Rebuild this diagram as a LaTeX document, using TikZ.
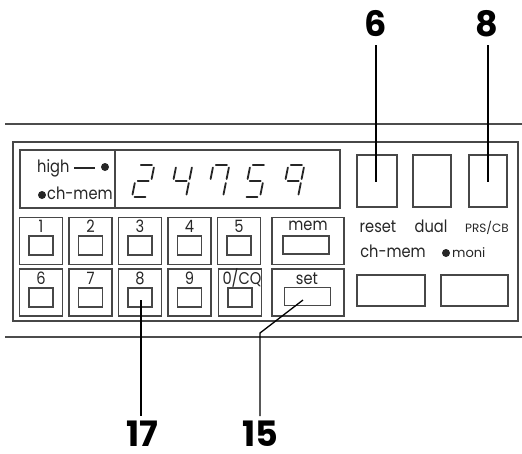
\documentclass[tikz,border=0pt]{standalone}
\usepackage{fontspec}
\setmainfont{Poppins}
\newfontfamily\panelfont{Poppins}[FakeStretch=0.86]
\begin{document}
\begin{tikzpicture}[x=1pt,y=-1pt,
  panel/.style={draw=black!72,line width=1.1pt},
  keybox/.style={panel,rectangle,inner sep=0pt,minimum width=43pt,minimum height=47pt},
  widekey/.style={panel,rectangle,inner sep=0pt,minimum width=72pt,minimum height=47pt},
  inbox/.style={panel,rectangle,inner sep=0pt,minimum width=24pt,minimum height=19pt},
  winbox/.style={panel,rectangle,inner sep=0pt,minimum width=46pt,minimum height=18pt},
  klab/.style={inner sep=0pt,anchor=base,font=\panelfont\fontsize{17}{17}\selectfont,text=black!85},
  plab/.style={inner sep=0pt,anchor=base,font=\panelfont\fontsize{17}{17}\selectfont,text=black!85},
  small/.style={inner sep=0pt,anchor=base,font=\fontsize{12}{12}\selectfont,text=black!85},
  big/.style={inner sep=0pt,anchor=base,font=\fontsize{35}{35}\selectfont\bfseries},
  lead/.style={draw=black,line width=1.3pt},
  seg/.style={draw=black!85,line width=1.8pt,line cap=round}]
\useasboundingbox (0,0) rectangle (522,453);
% rails
\coordinate (tl) at (5,124); \coordinate (tr) at (522,124);
\coordinate (bl) at (5,337); \coordinate (br) at (522,337);
\draw[draw=black!70,line width=1.2pt] (tl) -- (tr);
\draw[draw=black!70,line width=1.2pt] (bl) -- (br);
% outer panel
\node[panel,rectangle,inner sep=0pt,minimum width=505pt,minimum height=179pt] (outer) at (265.5,231.5) {};
% display
\node[panel,rectangle,inner sep=0pt,minimum width=95pt,minimum height=58pt] (disL) at (67.5,179) {};
\node[panel,rectangle,inner sep=0pt,minimum width=225pt,minimum height=58pt] (disR) at (227.5,179) {};
\node[plab,anchor=base west] (high) at (37,172) {high};
\coordinate (hd1) at (74,168); \coordinate (hd2) at (95,168);
\draw[draw=black!85,line width=1.4pt] (hd1) -- (hd2);
\node[circle,fill=black!85,inner sep=0pt,minimum size=8pt] (hdot) at (105,167) {};
\node[circle,fill=black!85,inner sep=0pt,minimum size=8pt] (cdot) at (42,195) {};
\node[plab,anchor=base west] (chm) at (47,199) {ch-mem};
% seven segment digits
\newcommand{\sega}{\draw[seg] (2.5,32) -- (13.5,32);}
\newcommand{\segb}{\draw[seg] (16,29.5) -- (16,18);}
\newcommand{\segc}{\draw[seg] (16,14) -- (16,2.5);}
\newcommand{\segd}{\draw[seg] (2.5,0) -- (13.5,0);}
\newcommand{\sege}{\draw[seg] (0,2.5) -- (0,14);}
\newcommand{\segf}{\draw[seg] (0,18) -- (0,29.5);}
\newcommand{\segg}{\draw[seg] (2.5,16) -- (13.5,16);}
\newcommand{\sevseg}[2]{%
\begin{scope}[shift={(#1,197)},x=1pt,y=1pt,xslant=0.2]
\foreach \s in {#2}{\csname seg\s\endcsname}
\end{scope}}
\sevseg{132}{a,b,g,e,d}
\sevseg{170}{f,b,g,c}
\sevseg{207}{a,f,b,c}
\sevseg{244}{a,f,g,c,d}
\sevseg{282}{a,f,b,g,c}
% right squares
\node[panel,rectangle,inner sep=0pt,minimum width=40pt,minimum height=52pt] (sq6) at (377,181) {};
\node[panel,rectangle,inner sep=0pt,minimum width=38pt,minimum height=52pt] (sqd) at (432,181) {};
\node[panel,rectangle,inner sep=0pt,minimum width=38pt,minimum height=52pt] (sq8) at (488,181) {};
\node[plab] (reset) at (378,232) {reset};
\node[plab] (dual) at (431,232) {dual};
\node[small] (prs) at (487,232) {PRS/CB};
\node[plab] (chm2) at (393,257) {ch-mem};
\node[circle,fill=black!85,inner sep=0pt,minimum size=8pt] (mdot) at (446,253) {};
\node[small,font=\fontsize{13}{13}\selectfont,anchor=base west] (moni) at (452,257) {moni};
\node[panel,rectangle,inner sep=0pt,minimum width=68pt,minimum height=31pt] (bb1) at (391,290.5) {};
\node[panel,rectangle,inner sep=0pt,minimum width=67pt,minimum height=31pt] (bb2) at (474.5,290.5) {};
% keypad
\foreach \n/\lab/\xx/\lx in {1/1/41/41,2/2/90.5/90.5,3/3/140/140,4/4/189.5/189.5,5/5/239/239}{
  \node[keybox] (k\n) at (\xx,241) {};
  \node[inbox] (ki\n) at (\xx,245.5) {};
  \node[klab] (kl\n) at (\lx,232) {\lab};
}
\foreach \n/\lab/\xx/\lx in {6/6/41/41,7/7/90.5/90.5,8/8/140/140,9/9/189.5/189.5,0/{0/CQ}/240/242}{
  \node[keybox] (k\n) at (\xx,292.5) {};
  \node[inbox] (ki\n) at (\xx,297.5) {};
  \node[klab] (kl\n) at (\lx,284) {\lab};
}
\node[widekey] (kmem) at (308,241) {};
\node[winbox] (kimem) at (306,245) {};
\node[klab] (lmem) at (308,230) {mem};
\node[widekey] (kset) at (308,292.5) {};
\node[winbox] (kiset) at (307.5,296.5) {};
\node[klab] (lset) at (307,284) {set};
% leaders
\node[big] (n6) at (376,36) {6};
\node[big] (n8) at (487,36) {8};
\node[big] (n17) at (142,446) {17};
\node[big] (n15) at (260,446) {15};
\coordinate (e6) at (376,182);
\coordinate (e8) at (488,182);
\coordinate (e17) at (141,300);
\coordinate (e15) at (303,300);
\coordinate (b15) at (260,333);
\coordinate (t6) at (376,45);
\coordinate (t8) at (488,45);
\coordinate (t17) at (141,416);
\coordinate (t15) at (260,416);
\draw[lead] (t6) -- (e6);
\draw[lead] (t8) -- (e8);
\draw[lead] (e17) -- (t17);
\draw[lead] (e15) -- (b15) -- (t15);
\end{tikzpicture}
\end{document}
